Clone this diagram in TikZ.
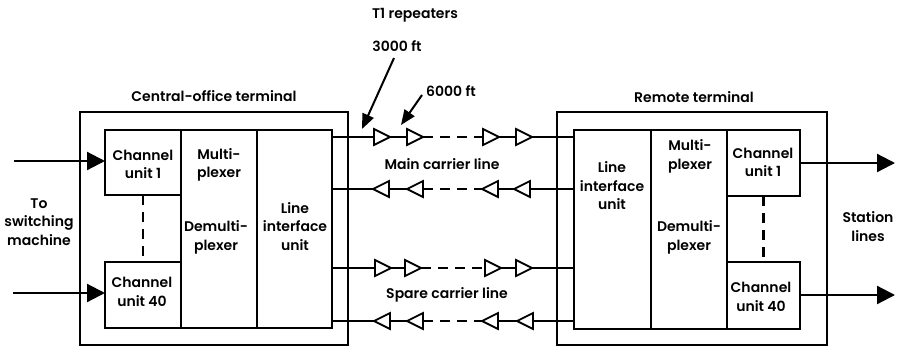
\documentclass[tikz,border=0pt]{standalone}
\usepackage{fontspec}
\setmainfont{Poppins}[UprightFont=* SemiBold,BoldFont=* Bold]
\usetikzlibrary{shapes.geometric,arrows.meta}
\tikzset{
  x=1pt,y=-1pt,
  every node/.style={inner sep=0pt,outer sep=0pt},
  box/.style={draw,line width=2pt,line join=miter,anchor=north west},
  wire/.style={line width=2.2pt},
  dashwire/.style={line width=2.2pt,dash pattern=on 10pt off 7pt},
  lab/.style={align=center,font=\fontsize{14}{18.5}\selectfont,text=black},
  bigarrow/.style={-{Triangle[length=18pt,width=18pt]},line width=2.2pt},
  ptr/.style={-{Triangle[length=15pt,width=12pt]},line width=2pt},
  rep/.style={draw,fill=white,line width=1.8pt,isosceles triangle,isosceles triangle stretches,
    minimum height=16pt,minimum width=16pt,anchor=lower side},
  repr/.style={rep,shape border rotate=0},
  repl/.style={rep,shape border rotate=180},
}
\begin{document}
\begin{tikzpicture}
\useasboundingbox (0,0) rectangle (901,348);
% outer frames
\node[box,minimum width=268pt,minimum height=233pt] (co) at (80,112) {};
\node[box,minimum width=270pt,minimum height=233pt] (rt) at (557,112) {};
% central office blocks
\node[box,minimum width=76pt,minimum height=65pt] (c1) at (105,130) {};
\node[box,minimum width=76pt,minimum height=66pt] (c40) at (105,262) {};
\node[box,minimum width=76pt,minimum height=198pt] (cm) at (181,130) {};
\node[box,minimum width=75pt,minimum height=198pt] (cl) at (257,130) {};
% remote blocks
\node[box,minimum width=77pt,minimum height=199pt] (rl) at (574,130) {};
\node[box,minimum width=76pt,minimum height=199pt] (rm) at (651,130) {};
\node[box,minimum width=73pt,minimum height=66pt] (r1) at (727,130) {};
\node[box,minimum width=73pt,minimum height=67pt] (r40) at (727,262) {};
% dashed links between channel units
\draw[dashwire] (c1.south) -- (c40.north);
\draw[dashwire] (r1.south) -- (r40.north);
% external arrows
\coordinate (inA) at (14,161);
\coordinate (inB) at (13,293);
\coordinate (outA) at (895,163);
\coordinate (outB) at (895,295);
\draw[bigarrow] (inA) -- (c1.west|-inA);
\draw[bigarrow] (inB) -- (c40.west|-inB);
\draw[bigarrow] (r1.east|-outA) -- (outA);
\draw[bigarrow] (r40.east|-outB) -- (outB);
% carrier lines
\foreach \n/\y/\a/\b/\c/\d in {a/137/374/407/483/516,c/268/375/405/485/516}{
  \node[repr] (\n1) at (\a,\y) {};
  \node[repr] (\n2) at (\b,\y) {};
  \node[repr] (\n3) at (\c,\y) {};
  \node[repr] (\n4) at (\d,\y) {};
  \coordinate (\n L) at (332,\y);
  \coordinate (\n R) at (574,\y);
  \draw[wire] (\n L) -- (\n1.lower side);
  \draw[wire] (\n1.apex) -- (\n2.lower side);
  \draw[dashwire] (\n2.apex) -- (\n3.lower side);
  \draw[wire] (\n3.apex) -- (\n4.lower side);
  \draw[wire] (\n4.apex) -- (\n R);
}
\foreach \n/\y/\a/\b/\c/\d in {b/189/389/423/498/530,d/321/390/423/498/533}{
  \node[repl] (\n1) at (\a,\y) {};
  \node[repl] (\n2) at (\b,\y) {};
  \node[repl] (\n3) at (\c,\y) {};
  \node[repl] (\n4) at (\d,\y) {};
  \coordinate (\n L) at (332,\y);
  \coordinate (\n R) at (574,\y);
  \draw[wire] (\n L) -- (\n1.apex);
  \draw[wire] (\n1.lower side) -- (\n2.apex);
  \draw[dashwire] (\n2.lower side) -- (\n3.apex);
  \draw[wire] (\n3.lower side) -- (\n4.apex);
  \draw[wire] (\n4.lower side) -- (\n R);
}
% labels
\node[lab] (tT) at (415,15) {T1 repeaters};
\node[lab] (t3) at (397,46) {3000 ft};
\node[lab] (t6) at (451,91) {6000 ft};
\node[lab] (tC) at (214,96) {Central-office terminal};
\node[lab] (tR) at (694,97) {Remote terminal};
\node[lab] (tM) at (442,164) {Main carrier line};
\node[lab] (tS) at (447,295) {Spare carrier line};
\node[lab] (tW) at (39,222) {To\\switching\\machine};
\node[lab] (tL) at (868,226.5) {Station\\lines};
\node[lab] at (143,164.5) {Channel\\unit 1};
\node[lab] at (142,292) {Channel\\unit 40};
\node[lab] at (219,165) {Multi-\\plexer};
\node[lab] at (216,237.5) {Demulti-\\plexer};
\node[lab] at (295,226.5) {Line\\interface\\unit};
\node[lab] at (612,186) {Line\\interface\\unit};
\node[lab] at (690,156.5) {Multi-\\plexer};
\node[lab] at (689,237.5) {Demulti-\\plexer};
\node[lab] at (763,162.5) {Channel\\unit 1};
\node[lab] at (761,297) {Channel\\unit 40};
% pointers
\coordinate (s3) at (394,58);
\coordinate (p3) at (362,129);
\coordinate (s6) at (422,95);
\coordinate (p6) at (401,125);
\draw[ptr] (s3) -- (p3);
\draw[ptr] (s6) -- (p6);
\end{tikzpicture}
\end{document}
